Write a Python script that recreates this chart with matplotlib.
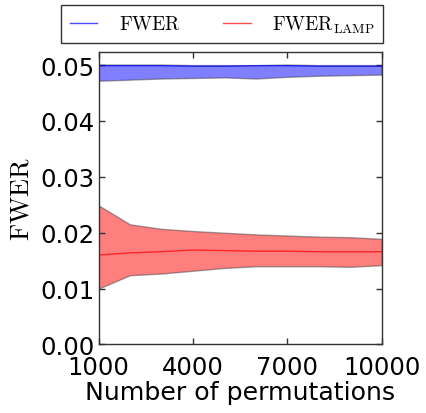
import matplotlib
matplotlib.use("Agg")
import matplotlib.pyplot as plt

plt.rcParams['mathtext.fontset'] = 'cm'
plt.rcParams['font.family'] = ['DejaVu Sans']

# Number of permutations used for each estimate
permutations = [1000, 2000, 3000, 4000, 5000, 6000, 7000, 8000, 9000, 10000]

# FWER estimate (mean with lower/upper band)
fwer_mean = [0.0499, 0.0499, 0.0499, 0.0498, 0.0498, 0.0499, 0.0499, 0.0498, 0.0498, 0.0498]
fwer_low = [0.0472, 0.0474, 0.0476, 0.0477, 0.0478, 0.0476, 0.0479, 0.0481, 0.0482, 0.0483]
fwer_high = [0.0501, 0.0501, 0.0501, 0.0500, 0.0500, 0.0500, 0.0501, 0.0500, 0.0500, 0.0500]

# FWER under LAMP (mean with lower/upper band)
lamp_mean = [0.0160, 0.0164, 0.0166, 0.0169, 0.0168, 0.0167, 0.0167, 0.0166, 0.0166, 0.0166]
lamp_low = [0.0100, 0.0124, 0.0127, 0.0132, 0.0137, 0.0140, 0.0140, 0.0140, 0.0139, 0.0142]
lamp_high = [0.0249, 0.0215, 0.0207, 0.0203, 0.0200, 0.0197, 0.0195, 0.0193, 0.0192, 0.0189]

xticks = [1000, 4000, 7000, 10000]
yticks = [0.00, 0.01, 0.02, 0.03, 0.04, 0.05]

fig = plt.figure(figsize=(4.27, 4.14), dpi=100)
ax = fig.add_axes([0.2307, 0.1655, 0.6633, 0.7072])

ax.fill_between(permutations, fwer_low, fwer_high, facecolor='#0000ff', alpha=0.5,
                edgecolor='#444444', linewidth=1.0)
ax.plot(permutations, fwer_mean, color='#0000ff', alpha=0.7, linewidth=1.0,
        label=r'$\mathrm{FWER}$')
ax.fill_between(permutations, lamp_low, lamp_high, facecolor='#ff0000', alpha=0.5,
                edgecolor='#444444', linewidth=1.0)
ax.plot(permutations, lamp_mean, color='#ff0000', alpha=0.7, linewidth=1.0,
        label=r'$\mathrm{FWER}_{\mathrm{LAMP}}$')

ax.set_xlim(1000, 10000)
ax.set_ylim(0.0, 0.0524)
ax.set_xticks(xticks)
ax.set_xticklabels([str(t) for t in xticks])
ax.set_yticks(yticks)
ax.set_yticklabels(['%.2f' % t for t in yticks])
ax.tick_params(direction='in', top=True, right=True, length=4, width=1,
               labelsize=17.5, color='#333333')
ax.tick_params(axis='x', pad=7.5)
ax.tick_params(axis='y', pad=3)
for s in ax.spines.values():
    s.set_linewidth(1.0)
    s.set_color('#333333')

ax.set_xlabel('Number of permutations', fontsize=18.2, labelpad=1)
ax.set_ylabel(r'$\mathrm{FWER}$', fontsize=19, labelpad=4)

leg = fig.legend(loc='center', bbox_to_anchor=(0.5206, 0.9396), ncol=2, fontsize=14,
                 frameon=True, fancybox=False, borderaxespad=0.0, borderpad=0.45,
                 handlelength=1.4, handletextpad=1.1, columnspacing=2.2)
leg.get_frame().set_edgecolor('black')
leg.get_frame().set_linewidth(1.0)

fig.savefig('out.png', dpi=100, facecolor='white')
